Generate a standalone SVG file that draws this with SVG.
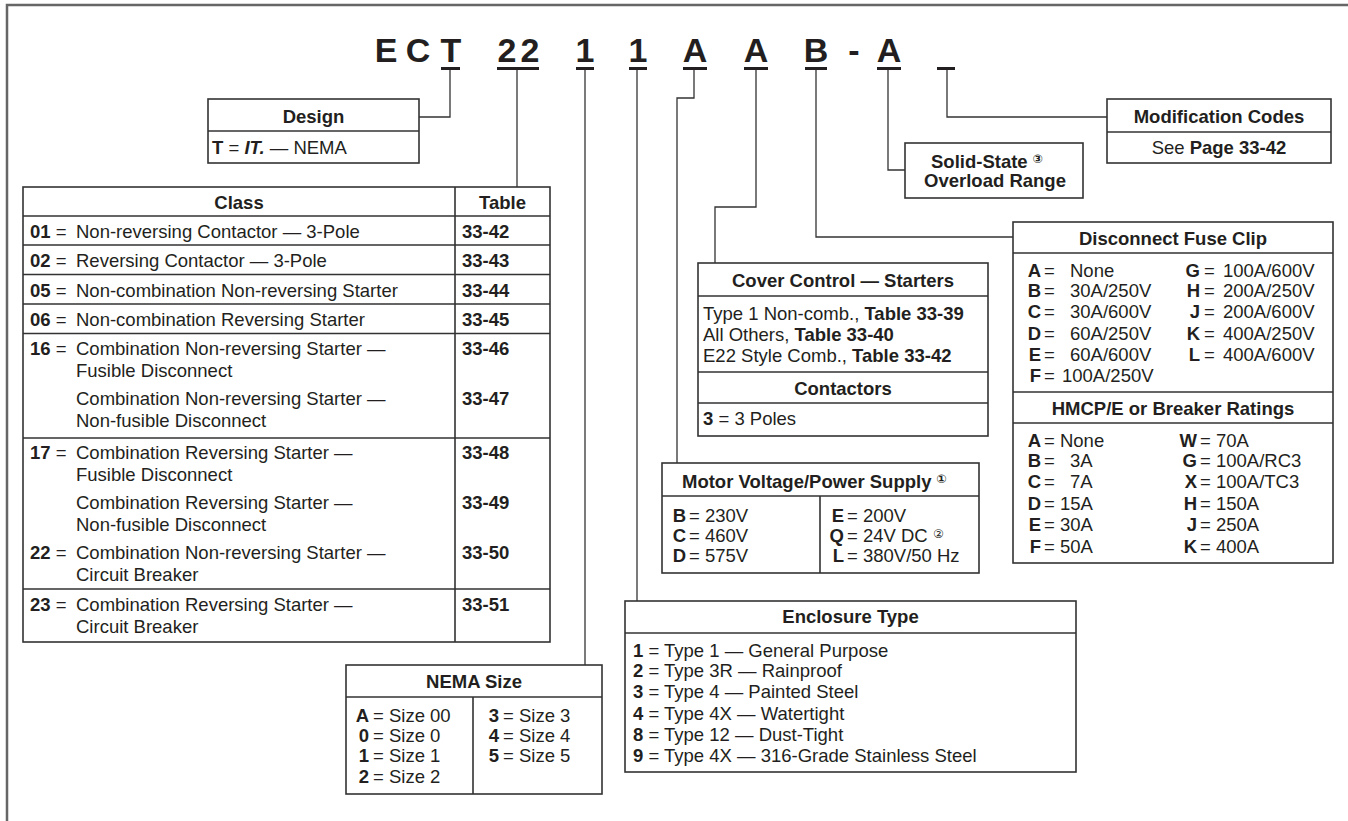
<svg xmlns="http://www.w3.org/2000/svg" width="1348" height="821" viewBox="0 0 1348 821">
<style>
text{font-family:"Liberation Sans",Arial,Helvetica,sans-serif;fill:#231f20;font-size:18.5px}
.b{font-weight:bold}
.bi{font-weight:bold;font-style:italic}
.m{text-anchor:middle}
.e{text-anchor:end}
.code{font-size:34px;font-weight:bold;text-anchor:middle}
.cn{font-family:"DejaVu Sans",sans-serif;font-size:12px}
.box{fill:#fff;stroke:#333;stroke-width:1.6}
.ln{fill:none;stroke:#333;stroke-width:1.6}
.con{fill:none;stroke:#333;stroke-width:1.3}
.ul{stroke:#231f20;stroke-width:3}
.frame{fill:none;stroke:#666;stroke-width:2.5}
</style>
<path class="frame" d="M7,821 V5 H1348"/>
<g id="code">
<text class="code" x="386" y="62">E</text>
<text class="code" x="418" y="62">C</text>
<text class="code" x="451" y="62">T</text>
<text class="code" x="507" y="62">2</text>
<text class="code" x="530" y="62">2</text>
<text class="code" x="585" y="62">1</text>
<text class="code" x="638" y="62">1</text>
<text class="code" x="695" y="62">A</text>
<text class="code" x="756" y="62">A</text>
<text class="code" x="816" y="62">B</text>
<text class="code" x="854" y="62">-</text>
<text class="code" x="889" y="62">A</text>
<path class="ul" d="M441,68.5H460 M497,68.5H539 M576,68.5H594 M629,68.5H647 M683,68.5H707 M744,68.5H768 M805,68.5H827 M877,68.5H901 M937,68.5H955"/>
</g>
<g id="connectors">
<path class="con" d="M450,70 V117 H419"/>
<path class="con" d="M517,70 V187"/>
<path class="con" d="M585,70 V665"/>
<path class="con" d="M637,70 V601"/>
<path class="con" d="M694,70 V98 H677 V463"/>
<path class="con" d="M756,70 V207 H715 V263"/>
<path class="con" d="M816,70 V237 H1013"/>
<path class="con" d="M888,70 V170 H905"/>
<path class="con" d="M947,70 V117 H1107"/>
</g>
<g id="design">
<rect class="box" x="208" y="99" width="211" height="64"/>
<path class="ln" d="M208,131H419"/>
<text class="b m" x="313.5" y="123">Design</text>
<text x="212" y="154"><tspan class="b">T</tspan> = <tspan class="bi">IT.</tspan> — NEMA</text>
</g>
<g id="class">
<rect class="box" x="23" y="187" width="527" height="455"/>
<path class="ln" d="M455,187V642 M23,216H550 M23,245H550 M23,274.5H550 M23,304H550 M23,333.5H550 M23,438H550 M23,589H550"/>
<text class="b m" x="239" y="209">Class</text>
<text class="b m" x="502.5" y="209">Table</text>
<text x="30" y="238"><tspan class="b">01</tspan> =</text><text x="76" y="238">Non-reversing Contactor — 3-Pole</text><text class="b" x="462" y="238">33-42</text>
<text x="30" y="267"><tspan class="b">02</tspan> =</text><text x="76" y="267">Reversing Contactor — 3-Pole</text><text class="b" x="462" y="267">33-43</text>
<text x="30" y="296.5"><tspan class="b">05</tspan> =</text><text x="76" y="296.5">Non-combination Non-reversing Starter</text><text class="b" x="462" y="296.5">33-44</text>
<text x="30" y="326"><tspan class="b">06</tspan> =</text><text x="76" y="326">Non-combination Reversing Starter</text><text class="b" x="462" y="326">33-45</text>
<text x="30" y="355"><tspan class="b">16</tspan> =</text><text x="76" y="355">Combination Non-reversing Starter —</text><text class="b" x="462" y="355">33-46</text>
<text x="76" y="377">Fusible Disconnect</text>
<text x="76" y="405">Combination Non-reversing Starter —</text><text class="b" x="462" y="405">33-47</text>
<text x="76" y="427">Non-fusible Disconnect</text>
<text x="30" y="459"><tspan class="b">17</tspan> =</text><text x="76" y="459">Combination Reversing Starter —</text><text class="b" x="462" y="459">33-48</text>
<text x="76" y="481">Fusible Disconnect</text>
<text x="76" y="509">Combination Reversing Starter —</text><text class="b" x="462" y="509">33-49</text>
<text x="76" y="531">Non-fusible Disconnect</text>
<text x="30" y="559"><tspan class="b">22</tspan> =</text><text x="76" y="559">Combination Non-reversing Starter —</text><text class="b" x="462" y="559">33-50</text>
<text x="76" y="581">Circuit Breaker</text>
<text x="30" y="611"><tspan class="b">23</tspan> =</text><text x="76" y="611">Combination Reversing Starter —</text><text class="b" x="462" y="611">33-51</text>
<text x="76" y="633">Circuit Breaker</text>
</g>
<g id="nema">
<rect class="box" x="346" y="665" width="256" height="129"/>
<path class="ln" d="M346,697H602 M473,697V794"/>
<text class="b m" x="474" y="688">NEMA Size</text>
<text class="b e" x="369" y="722">A</text><text x="373" y="722">= Size 00</text>
<text class="b e" x="369" y="742">0</text><text x="373" y="742">= Size 0</text>
<text class="b e" x="369" y="762">1</text><text x="373" y="762">= Size 1</text>
<text class="b e" x="369" y="783">2</text><text x="373" y="783">= Size 2</text>
<text class="b e" x="499" y="722">3</text><text x="503" y="722">= Size 3</text>
<text class="b e" x="499" y="742">4</text><text x="503" y="742">= Size 4</text>
<text class="b e" x="499" y="762">5</text><text x="503" y="762">= Size 5</text>
</g>
<g id="enclosure">
<rect class="box" x="625" y="601" width="451" height="171"/>
<path class="ln" d="M625,633H1076"/>
<text class="b m" x="850.5" y="623">Enclosure Type</text>
<text x="633" y="657"><tspan class="b">1</tspan> = Type 1 — General Purpose</text>
<text x="633" y="677"><tspan class="b">2</tspan> = Type 3R — Rainproof</text>
<text x="633" y="698"><tspan class="b">3</tspan> = Type 4 — Painted Steel</text>
<text x="633" y="720"><tspan class="b">4</tspan> = Type 4X — Watertight</text>
<text x="633" y="741"><tspan class="b">8</tspan> = Type 12 — Dust-Tight</text>
<text x="633" y="762"><tspan class="b">9</tspan> = Type 4X — 316-Grade Stainless Steel</text>
</g>
<g id="motor">
<rect class="box" x="662" y="463" width="317" height="110"/>
<path class="ln" d="M662,496H979 M820,496V573"/>
<text class="b" x="682" y="488">Motor Voltage/Power Supply <tspan class="cn" dy="-5">①</tspan></text>
<text class="b e" x="686" y="522">B</text><text x="689" y="522">= 230V</text>
<text class="b e" x="686" y="542">C</text><text x="689" y="542">= 460V</text>
<text class="b e" x="686" y="562">D</text><text x="689" y="562">= 575V</text>
<text class="b e" x="844" y="522">E</text><text x="847" y="522">= 200V</text>
<text class="b e" x="844" y="542">Q</text><text x="847" y="542">= 24V DC <tspan class="cn" dy="-4">②</tspan></text>
<text class="b e" x="844" y="562">L</text><text x="847" y="562">= 380V/50 Hz</text>
</g>
<g id="cover">
<rect class="box" x="698" y="263" width="290" height="173"/>
<path class="ln" d="M698,296H988 M698,372H988 M698,403H988"/>
<text class="b m" x="843" y="287">Cover Control — Starters</text>
<text x="703" y="320">Type 1 Non-comb., <tspan class="b">Table 33-39</tspan></text>
<text x="703" y="341">All Others, <tspan class="b">Table 33-40</tspan></text>
<text x="703" y="362">E22 Style Comb., <tspan class="b">Table 33-42</tspan></text>
<text class="b m" x="843" y="395">Contactors</text>
<text x="703" y="425"><tspan class="b">3</tspan> = 3 Poles</text>
</g>
<g id="modification">
<rect class="box" x="1107" y="99" width="224" height="64"/>
<path class="ln" d="M1107,132H1331"/>
<text class="b m" x="1219" y="123">Modification Codes</text>
<text class="m" x="1219" y="154">See <tspan class="b">Page 33-42</tspan></text>
</g>
<g id="solidstate">
<rect class="box" x="905" y="143" width="178" height="55"/>
<text class="b" x="931" y="168">Solid-State <tspan class="cn" dy="-5">③</tspan></text>
<text class="b m" x="995" y="187">Overload Range</text>
</g>
<g id="fuseclip">
<rect class="box" x="1013" y="222" width="320" height="341"/>
<path class="ln" d="M1013,253H1333 M1013,392H1333 M1013,423H1333"/>
<text class="b m" x="1173" y="245">Disconnect Fuse Clip</text>
<text class="b e" x="1041" y="277">A</text><text x="1044" y="277">=</text><text x="1070" y="277">None</text>
<text class="b e" x="1041" y="297">B</text><text x="1044" y="297">=</text><text x="1070" y="297">30A/250V</text>
<text class="b e" x="1041" y="318">C</text><text x="1044" y="318">=</text><text x="1070" y="318">30A/600V</text>
<text class="b e" x="1041" y="340">D</text><text x="1044" y="340">=</text><text x="1070" y="340">60A/250V</text>
<text class="b e" x="1041" y="361">E</text><text x="1044" y="361">=</text><text x="1070" y="361">60A/600V</text>
<text class="b e" x="1041" y="382">F</text><text x="1044" y="382">=</text><text x="1062" y="382">100A/250V</text>
<text class="b e" x="1200" y="277">G</text><text x="1204" y="277">=</text><text x="1223" y="277">100A/600V</text>
<text class="b e" x="1200" y="297">H</text><text x="1204" y="297">=</text><text x="1223" y="297">200A/250V</text>
<text class="b e" x="1200" y="318">J</text><text x="1204" y="318">=</text><text x="1223" y="318">200A/600V</text>
<text class="b e" x="1200" y="340">K</text><text x="1204" y="340">=</text><text x="1223" y="340">400A/250V</text>
<text class="b e" x="1200" y="361">L</text><text x="1204" y="361">=</text><text x="1223" y="361">400A/600V</text>
<text class="b m" x="1173" y="415">HMCP/E or Breaker Ratings</text>
<text class="b e" x="1041" y="447">A</text><text x="1044" y="447">= None</text>
<text class="b e" x="1041" y="467">B</text><text x="1044" y="467">=</text><text x="1070" y="467">3A</text>
<text class="b e" x="1041" y="488">C</text><text x="1044" y="488">=</text><text x="1070" y="488">7A</text>
<text class="b e" x="1041" y="510">D</text><text x="1044" y="510">= 15A</text>
<text class="b e" x="1041" y="531">E</text><text x="1044" y="531">= 30A</text>
<text class="b e" x="1041" y="553">F</text><text x="1044" y="553">= 50A</text>
<text class="b e" x="1197" y="447">W</text><text x="1200" y="447">= 70A</text>
<text class="b e" x="1197" y="467">G</text><text x="1200" y="467">= 100A/RC3</text>
<text class="b e" x="1197" y="488">X</text><text x="1200" y="488">= 100A/TC3</text>
<text class="b e" x="1197" y="510">H</text><text x="1200" y="510">= 150A</text>
<text class="b e" x="1197" y="531">J</text><text x="1200" y="531">= 250A</text>
<text class="b e" x="1197" y="553">K</text><text x="1200" y="553">= 400A</text>
</g>
</svg>
